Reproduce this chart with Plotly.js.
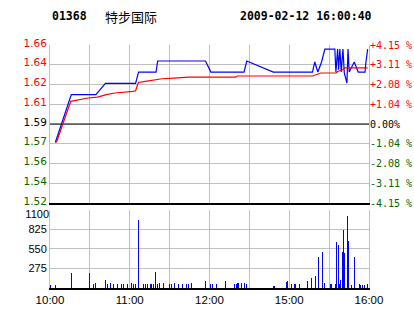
<!DOCTYPE html>
<html>
<head>
<meta charset="utf-8">
<script src="https://cdn.plot.ly/plotly-3.0.1.min.js"></script>
<style>html,body{margin:0;padding:0;background:#fff;}#chart{width:414px;height:314px;}</style>
</head>
<body>
<div id="chart"></div>
<script>
// ---- data ----
const stockCode = "01368";
const stockName = "特步国际";
const stamp = "2009-02-12 16:00:40";
const prevClose = 1.59;

// trading minutes since 10:00 (lunch break collapsed)
const priceTime = [4, 16, 34.5, 41.7, 64.4, 66.6, 79.8, 81, 117, 121, 146, 148, 168, 197.5, 199.2, 200.5, 201.5, 204.3, 206.8, 214.3, 215.1, 216.4, 217.1, 218.1, 219.1, 220.4, 221.4, 223.4, 224.2, 225.1, 228.9, 231.9, 237, 237.7, 239];
const priceValue = [1.5746, 1.6145, 1.6145, 1.6239, 1.6239, 1.6334, 1.6334, 1.6426, 1.6426, 1.6334, 1.6334, 1.6426, 1.6334, 1.6334, 1.6418, 1.6368, 1.6334, 1.6418, 1.6526, 1.6526, 1.6334, 1.6526, 1.6353, 1.6526, 1.6334, 1.6526, 1.6326, 1.6242, 1.6526, 1.6334, 1.6418, 1.6334, 1.6334, 1.6418, 1.6526];

const avgTime = [4.8, 15.6, 28.7, 35.7, 42.5, 48.8, 62.6, 64.4, 65.9, 66.6, 71.7, 78, 84.3, 93.1, 104.4, 139.6, 140.9, 197.5, 200, 203.8, 215.1, 216.4, 220.2, 221.4, 239];
const avgValue = [1.5746, 1.6089, 1.6117, 1.6125, 1.6145, 1.6159, 1.6172, 1.6178, 1.6228, 1.6247, 1.6256, 1.6270, 1.6278, 1.6284, 1.6292, 1.6292, 1.6301, 1.6301, 1.6312, 1.6326, 1.6326, 1.6339, 1.6353, 1.6368, 1.6368];

const volTime = [0, 4, 16, 30, 33, 34, 42, 43.5, 45.5, 48, 51, 54, 55, 58, 61, 63, 64, 66.6, 70, 72, 73, 76, 78, 79.5, 81, 82.5, 85.5, 90, 91.5, 94, 97, 100, 103, 104, 106.6, 117, 121, 122, 125, 132, 139, 140, 141.4, 142, 144.4, 146, 148, 168.5, 177.6, 179, 181.4, 183.6, 185, 188, 193.4, 197, 199.5, 201.7, 204.8, 206.3, 210.8, 211.5, 214.6, 215.3, 216.8, 217.6, 218.3, 219.8, 220.6, 221.4, 223.6, 224.4, 226.6, 228.9, 232.7, 233.4, 235, 236.4, 238.7];
const volValue = [42, 42, 211, 211, 56, 70, 113, 56, 70, 56, 56, 56, 56, 56, 70, 56, 56, 959, 56, 56, 56, 56, 56, 225, 56, 70, 70, 56, 56, 70, 56, 56, 56, 56, 70, 99, 56, 56, 56, 99, 56, 56, 70, 70, 70, 70, 56, 28, 85, 99, 56, 56, 56, 56, 99, 141, 169, 437, 508, 70, 56, 56, 56, 649, 606, 56, 113, 508, 818, 494, 1015, 663, 42, 437, 56, 42, 42, 42, 56];

const pctLevels = [4.15, 3.11, 2.08, 1.04, 0, -1.04, -2.08, -3.11, -4.15];
const priceLabels = ["1.66", "1.64", "1.62", "1.61", "1.59", "1.57", "1.56", "1.54", "1.52"];
const pctLabels = ["+4.15 %", "+3.11 %", "+2.08 %", "+1.04 %", "0.00%", "-1.04 %", "-2.08 %", "-3.11 %", "-4.15 %"];
const volTicks = [275, 550, 825];
const volLabels = ["275", "550", "825"];
const volTopTick = [1100];
const volTopLabel = ["1100"];
const timeTicks = [0, 30, 60, 90, 120, 150, 180, 210, 240];
const timeLabels = ["10:00", "", "11:00", "", "12:00", "", "15:00", "", "16:00"];

// ---- build ----
const RED = "#ff0000", GREEN = "#006600", GRID = "#c0c0c0";
function colorFor(p) { return p > 0 ? RED : (p < 0 ? GREEN : "#000000"); }
const priceTickVals = pctLevels.map(p => prevClose * (1 + p / 100));
const priceRange = [prevClose * (1 - 4.15 / 100), prevClose * (1 + 4.15 / 100)];
const leftText = priceLabels.map((t, i) => `<span style="color:${colorFor(pctLevels[i])}">${t}</span>`);
const rightText = pctLabels.map((t, i) => `<span style="color:${colorFor(pctLevels[i])}">${t}</span>`);

const traces = [
  {x: priceTime, y: priceValue, type: "scatter", mode: "lines", line: {color: "#0000ff", width: 1.2}, xaxis: "x", yaxis: "y", hoverinfo: "skip"},
  {x: avgTime, y: avgValue, type: "scatter", mode: "lines", line: {color: "#ff0000", width: 1.2}, xaxis: "x", yaxis: "y", hoverinfo: "skip"},
  {x: volTime, y: volValue, type: "bar", marker: {color: "#0000ff", line: {width: 0}}, width: 0.8, xaxis: "x2", yaxis: "y2", hoverinfo: "skip"},
  {x: [0, 240], y: priceRange, type: "scatter", mode: "none", xaxis: "x", yaxis: "y3", hoverinfo: "skip"},
  {x: [0, 240], y: [0, 1100], type: "scatter", mode: "none", xaxis: "x2", yaxis: "y4", hoverinfo: "skip"}
];

const axFont = {family: "DejaVu Sans", size: 10.5, color: "#000"};
const volFont = {family: "Liberation Sans", size: 11, color: "#000"};
const layout = {
  width: 414, height: 314,
  margin: {l: 50, r: 45, t: 45, b: 26, pad: 0},
  paper_bgcolor: "#fff", plot_bgcolor: "#fff",
  showlegend: false,
  bargap: 0,
  xaxis: {domain: [0, 1], range: [0, 240], anchor: "y", tickvals: timeTicks, showticklabels: false,
          showgrid: true, gridcolor: GRID, gridwidth: 1, zeroline: false,
          showline: true, linecolor: "#000", linewidth: 2, ticks: "", fixedrange: true},
  xaxis2: {domain: [0, 1], range: [0, 240], anchor: "y2", tickvals: timeTicks, ticktext: timeLabels,
           showgrid: true, gridcolor: GRID, gridwidth: 1, zeroline: false,
           showline: true, linecolor: "#000", linewidth: 2, ticks: "",
           tickfont: {family: "Liberation Sans", size: 11.5, color: "#000"}, tickangle: 0, fixedrange: true},
  yaxis: {domain: [0.3498, 1], range: priceRange, anchor: "x", tickvals: priceTickVals, ticktext: leftText,
          showgrid: true, gridcolor: GRID, gridwidth: 1, zeroline: false,
          showline: true, linecolor: GRID, linewidth: 1, mirror: true, ticks: "",
          ticklabelshift: -2, tickfont: axFont, fixedrange: true},
  yaxis3: {overlaying: "y", side: "right", range: priceRange, anchor: "x", tickvals: priceTickVals, ticktext: rightText,
           showgrid: false, zeroline: false, showline: false, ticks: "",
           tickfont: {family: "DejaVu Sans Mono", size: 10, color: "#000"}, fixedrange: true},
  yaxis2: {domain: [0, 0.321], range: [0, 1100], anchor: "x2", tickvals: volTicks.concat(volTopTick), ticktext: volLabels.concat([""]),
           showgrid: true, gridcolor: GRID, gridwidth: 1, zeroline: false,
           showline: true, linecolor: GRID, linewidth: 1, mirror: true, ticks: "",
           tickfont: volFont, fixedrange: true},
  yaxis4: {overlaying: "y2", side: "left", range: [0, 1100], anchor: "x2", tickvals: volTopTick, ticktext: volTopLabel,
           showgrid: false, zeroline: false, showline: false, ticks: "",
           ticklabelshift: 4, tickfont: volFont, fixedrange: true},
  shapes: [
    {type: "line", xref: "x", yref: "y", x0: 0, x1: 240, y0: prevClose, y1: prevClose,
     line: {color: "#000", width: 1}, layer: "between"}
  ],
  annotations: [
    {xref: "paper", yref: "paper", x: 0, y: 1.119, xanchor: "left", yanchor: "middle", showarrow: false,
     text: "<b>" + stockCode + "</b>", font: {family: "DejaVu Sans Mono", size: 11.5, color: "#000"}},
    {xref: "paper", yref: "paper", x: 0.166, y: 1.119, xanchor: "left", yanchor: "middle", showarrow: false,
     text: stockName, font: {family: "Noto Sans CJK SC", size: 13, color: "#000"}},
    {xref: "paper", yref: "paper", x: 0.589, y: 1.119, xanchor: "left", yanchor: "middle", showarrow: false,
     text: "<b>" + stamp + "</b>", font: {family: "DejaVu Sans Mono", size: 11.5, color: "#000"}}
  ]
};

Plotly.newPlot("chart", traces, layout, {displayModeBar: false, staticPlot: true});
</script>
</body>
</html>
